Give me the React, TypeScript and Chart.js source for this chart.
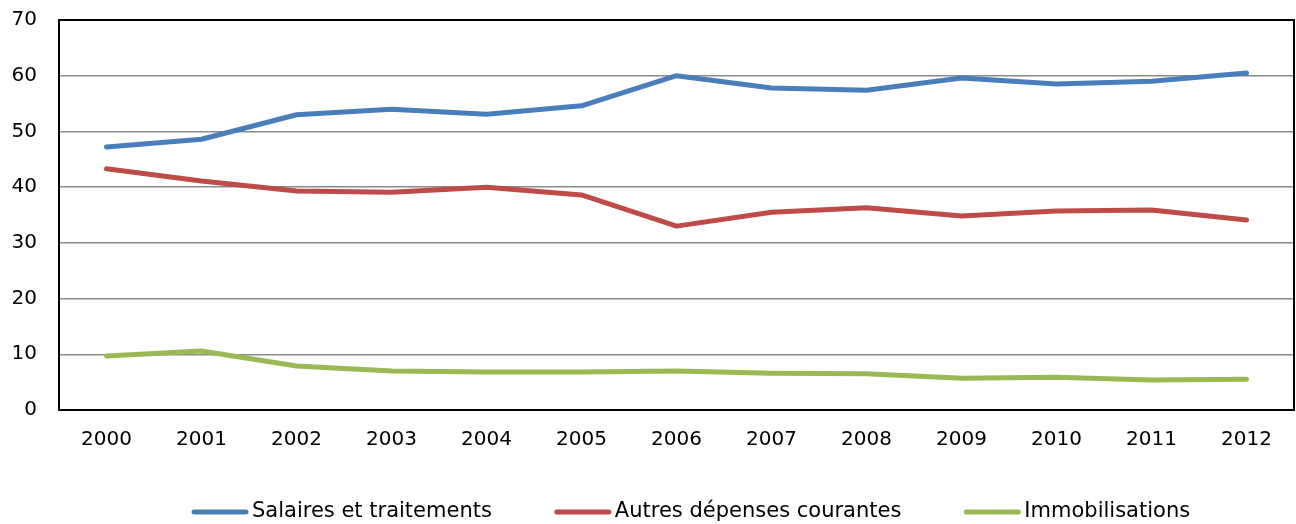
import React, { useEffect, useRef } from "react";
import { Chart, registerables } from "chart.js";

Chart.register(...registerables);

const years = ["2000", "2001", "2002", "2003", "2004", "2005", "2006", "2007", "2008", "2009", "2010", "2011", "2012"];
const salaires = [47.2, 48.6, 53.0, 54.0, 53.1, 54.6, 60.0, 57.8, 57.4, 59.6, 58.5, 59.0, 60.5];
const autres = [43.3, 41.1, 39.3, 39.1, 40.0, 38.6, 33.0, 35.5, 36.3, 34.8, 35.7, 35.9, 34.1];
const immobilisations = [9.7, 10.6, 7.9, 7.0, 6.8, 6.8, 7.0, 6.6, 6.5, 5.7, 5.9, 5.4, 5.5];
const seriesLabels = ["Salaires et traitements", "Autres dépenses courantes", "Immobilisations"];
const seriesColors = ["#4A7EBB", "#BE4B48", "#98B954"];
const FONT = "'DejaVu Sans', Verdana, sans-serif";

const borderPlugin = {
  id: "plotBorder",
  afterDraw(chart: any) {
    const { ctx, chartArea } = chart;
    ctx.save();
    ctx.strokeStyle = "#000";
    ctx.lineWidth = 2;
    ctx.strokeRect(chartArea.left, chartArea.top, chartArea.right - chartArea.left, chartArea.bottom - chartArea.top);
    ctx.restore();
  },
};

const legendPlugin = {
  id: "customLegend",
  afterDraw(chart: any) {
    const { ctx } = chart;
    const y = 512;
    const lineW = 56;
    const gapText = 4;
    const gapItem = 63;
    ctx.save();
    ctx.font = `21px ${FONT}`;
    ctx.textBaseline = "middle";
    ctx.textAlign = "left";
    let x = 192;
    chart.data.datasets.forEach((ds: any) => {
      ctx.strokeStyle = ds.borderColor;
      ctx.lineWidth = 5;
      ctx.lineCap = "round";
      ctx.beginPath();
      ctx.moveTo(x + 2, y);
      ctx.lineTo(x + lineW - 2, y);
      ctx.stroke();
      ctx.fillStyle = "#000";
      ctx.fillText(ds.label, x + lineW + gapText, y);
      x += lineW + gapText + ctx.measureText(ds.label).width + gapItem;
    });
    ctx.restore();
  },
};

export default function App() {
  const ref = useRef<HTMLCanvasElement>(null);
  useEffect(() => {
    if (!ref.current) return;
    const dataSets = [salaires, autres, immobilisations];
    const chart = new Chart(ref.current, {
      type: "line",
      data: {
        labels: years,
        datasets: dataSets.map((d, i) => ({
          label: seriesLabels[i],
          data: d,
          borderColor: seriesColors[i],
          backgroundColor: seriesColors[i],
          borderWidth: 5,
          pointRadius: 0,
          tension: 0,
          fill: false,
          borderCapStyle: "round",
          borderJoinStyle: "round",
        })),
      },
      options: {
        animation: false,
        responsive: true,
        maintainAspectRatio: false,
        layout: { padding: { top: 20, right: 2, bottom: 54, left: 0 } },
        plugins: {
          legend: { display: false },
          tooltip: { enabled: false },
        },
        scales: {
          x: {
            offset: true,
            grid: { display: false, drawTicks: false },
            border: { display: true, color: "#000", width: 2 },
            ticks: { color: "#000", font: { family: FONT, size: 20 }, padding: 18, maxRotation: 0 },
            afterFit: (s: any) => { s.height = 60; s.paddingLeft = 0; s.paddingRight = 0; },
          },
          y: {
            min: 0,
            max: 70,
            ticks: { stepSize: 10, color: "#000", font: { family: FONT, size: 20 }, padding: 22 },
            grid: { color: "#8a8a8a", lineWidth: 1.5, drawTicks: false },
            border: { display: true, color: "#000", width: 2 },
            afterFit: (s: any) => { s.width = 59; s.paddingTop = 0; s.paddingBottom = 0; },
          },
        },
      },
      plugins: [borderPlugin, legendPlugin],
    });
    return () => chart.destroy();
  }, []);
  return (
    <div style={{ position: "absolute", left: 0, top: 0, width: 1296, height: 524, background: "#fff" }}>
      <canvas ref={ref} />
    </div>
  );
}
